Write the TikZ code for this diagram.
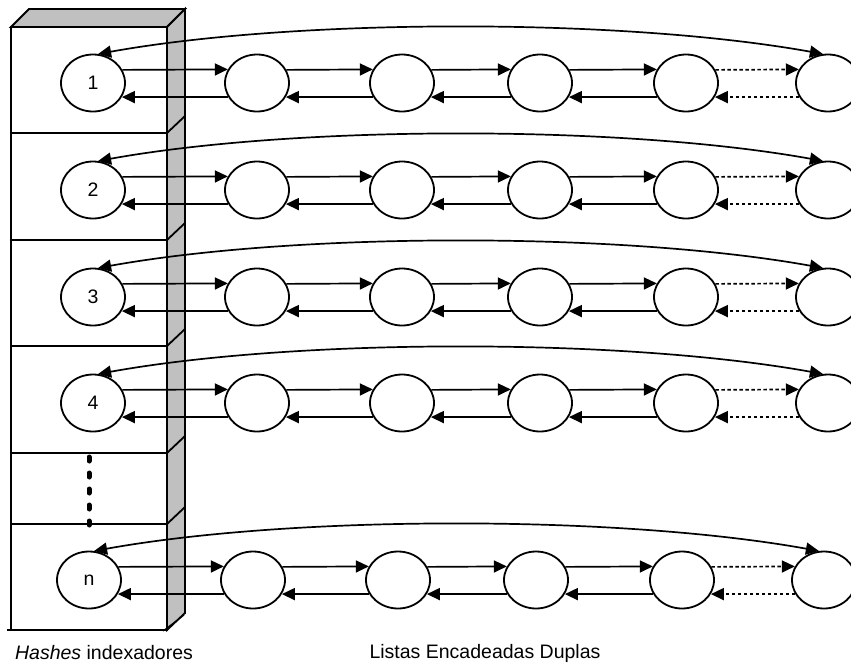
\documentclass[tikz,border=0pt]{standalone}
\usepackage{fontspec}
\setmainfont{Liberation Sans}
\usetikzlibrary{arrows.meta,calc,shapes.geometric}
\definecolor{sidegray}{HTML}{C0C0C0}
\tikzset{
  hnode/.style={ellipse, draw, line width=1.8pt, minimum width=64pt, minimum height=57pt, inner sep=0pt, fill=white, font=\fontsize{19.5}{22}\selectfont},
  arr/.style={line width=1.7pt, -{Triangle[length=13pt,width=12pt]}},
  darr/.style={arr, dash pattern=on 3.5pt off 2.5pt},
  looparr/.style={line width=1.7pt, {Triangle[length=13pt,width=12pt]}-{Triangle[length=13pt,width=12pt]}},
  boxline/.style={line width=1.8pt},
  captext/.style={font=\fontsize{19.5}{22}\selectfont, inner sep=0pt}
}
\begin{document}
\begin{tikzpicture}[x=1pt,y=-1pt]
\clip (0,0) rectangle (851,665);
\fill[white] (0,0) rectangle (851,665);
% box
\filldraw[boxline, fill=sidegray] (11,27) -- (29,9) -- (185,9) -- (167,27) -- cycle;
\filldraw[boxline, fill=sidegray] (167,27) -- (185,9) -- (185,613) -- (167,630) -- cycle;
\draw[boxline] (11,27) rectangle (167,630);
\draw[boxline] (7,630) -- (167,630);
\draw[line width=1.2pt] (163,631) -- (184,615);
\foreach \yy in {133,240,346,453,524} {
  \draw[boxline] (11,\yy) -- (167,\yy) -- (185,\yy-17);
}
\draw[line width=5pt, line cap=round, dash pattern=on 4pt off 12pt] (89,457) -- (89,525);
% lists
\foreach \lab/\y/\s [count=\r] in {1/83/0,2/190/0,3/297/0,4/403/0,n/580/-4} {
  \node[hnode] (r\r-1) at (93+\s,\y) {\lab};
  \foreach \x [count=\c from 2] in {257,402,540,686,828} {
    \node[hnode] (r\r-\c) at (\x+\s,\y) {};
  }
  \foreach \a/\b in {1/2,2/3,3/4,4/5} {
    \draw[arr] (r\r-\a.24.5) -- (r\r-\b.155.5);
    \draw[arr] (r\r-\b.206.6) -- (r\r-\a.-26.6);
  }
  \draw[darr] (r\r-5.24.5) -- (r\r-6.155.5);
  \draw[darr] (r\r-6.206.6) -- (r\r-5.-26.6);
  \draw[looparr] (r\r-1.80) .. controls ($(r\r-1.80)+(200,-36)$) and ($(r\r-6.100)+(-200,-36)$) .. (r\r-6.100);
}
\node[captext] (cap1) at (104,653) {\textit{Hashes} indexadores};
\node[captext] (cap2) at (485,653) {Listas Encadeadas Duplas};
\end{tikzpicture}
\end{document}
